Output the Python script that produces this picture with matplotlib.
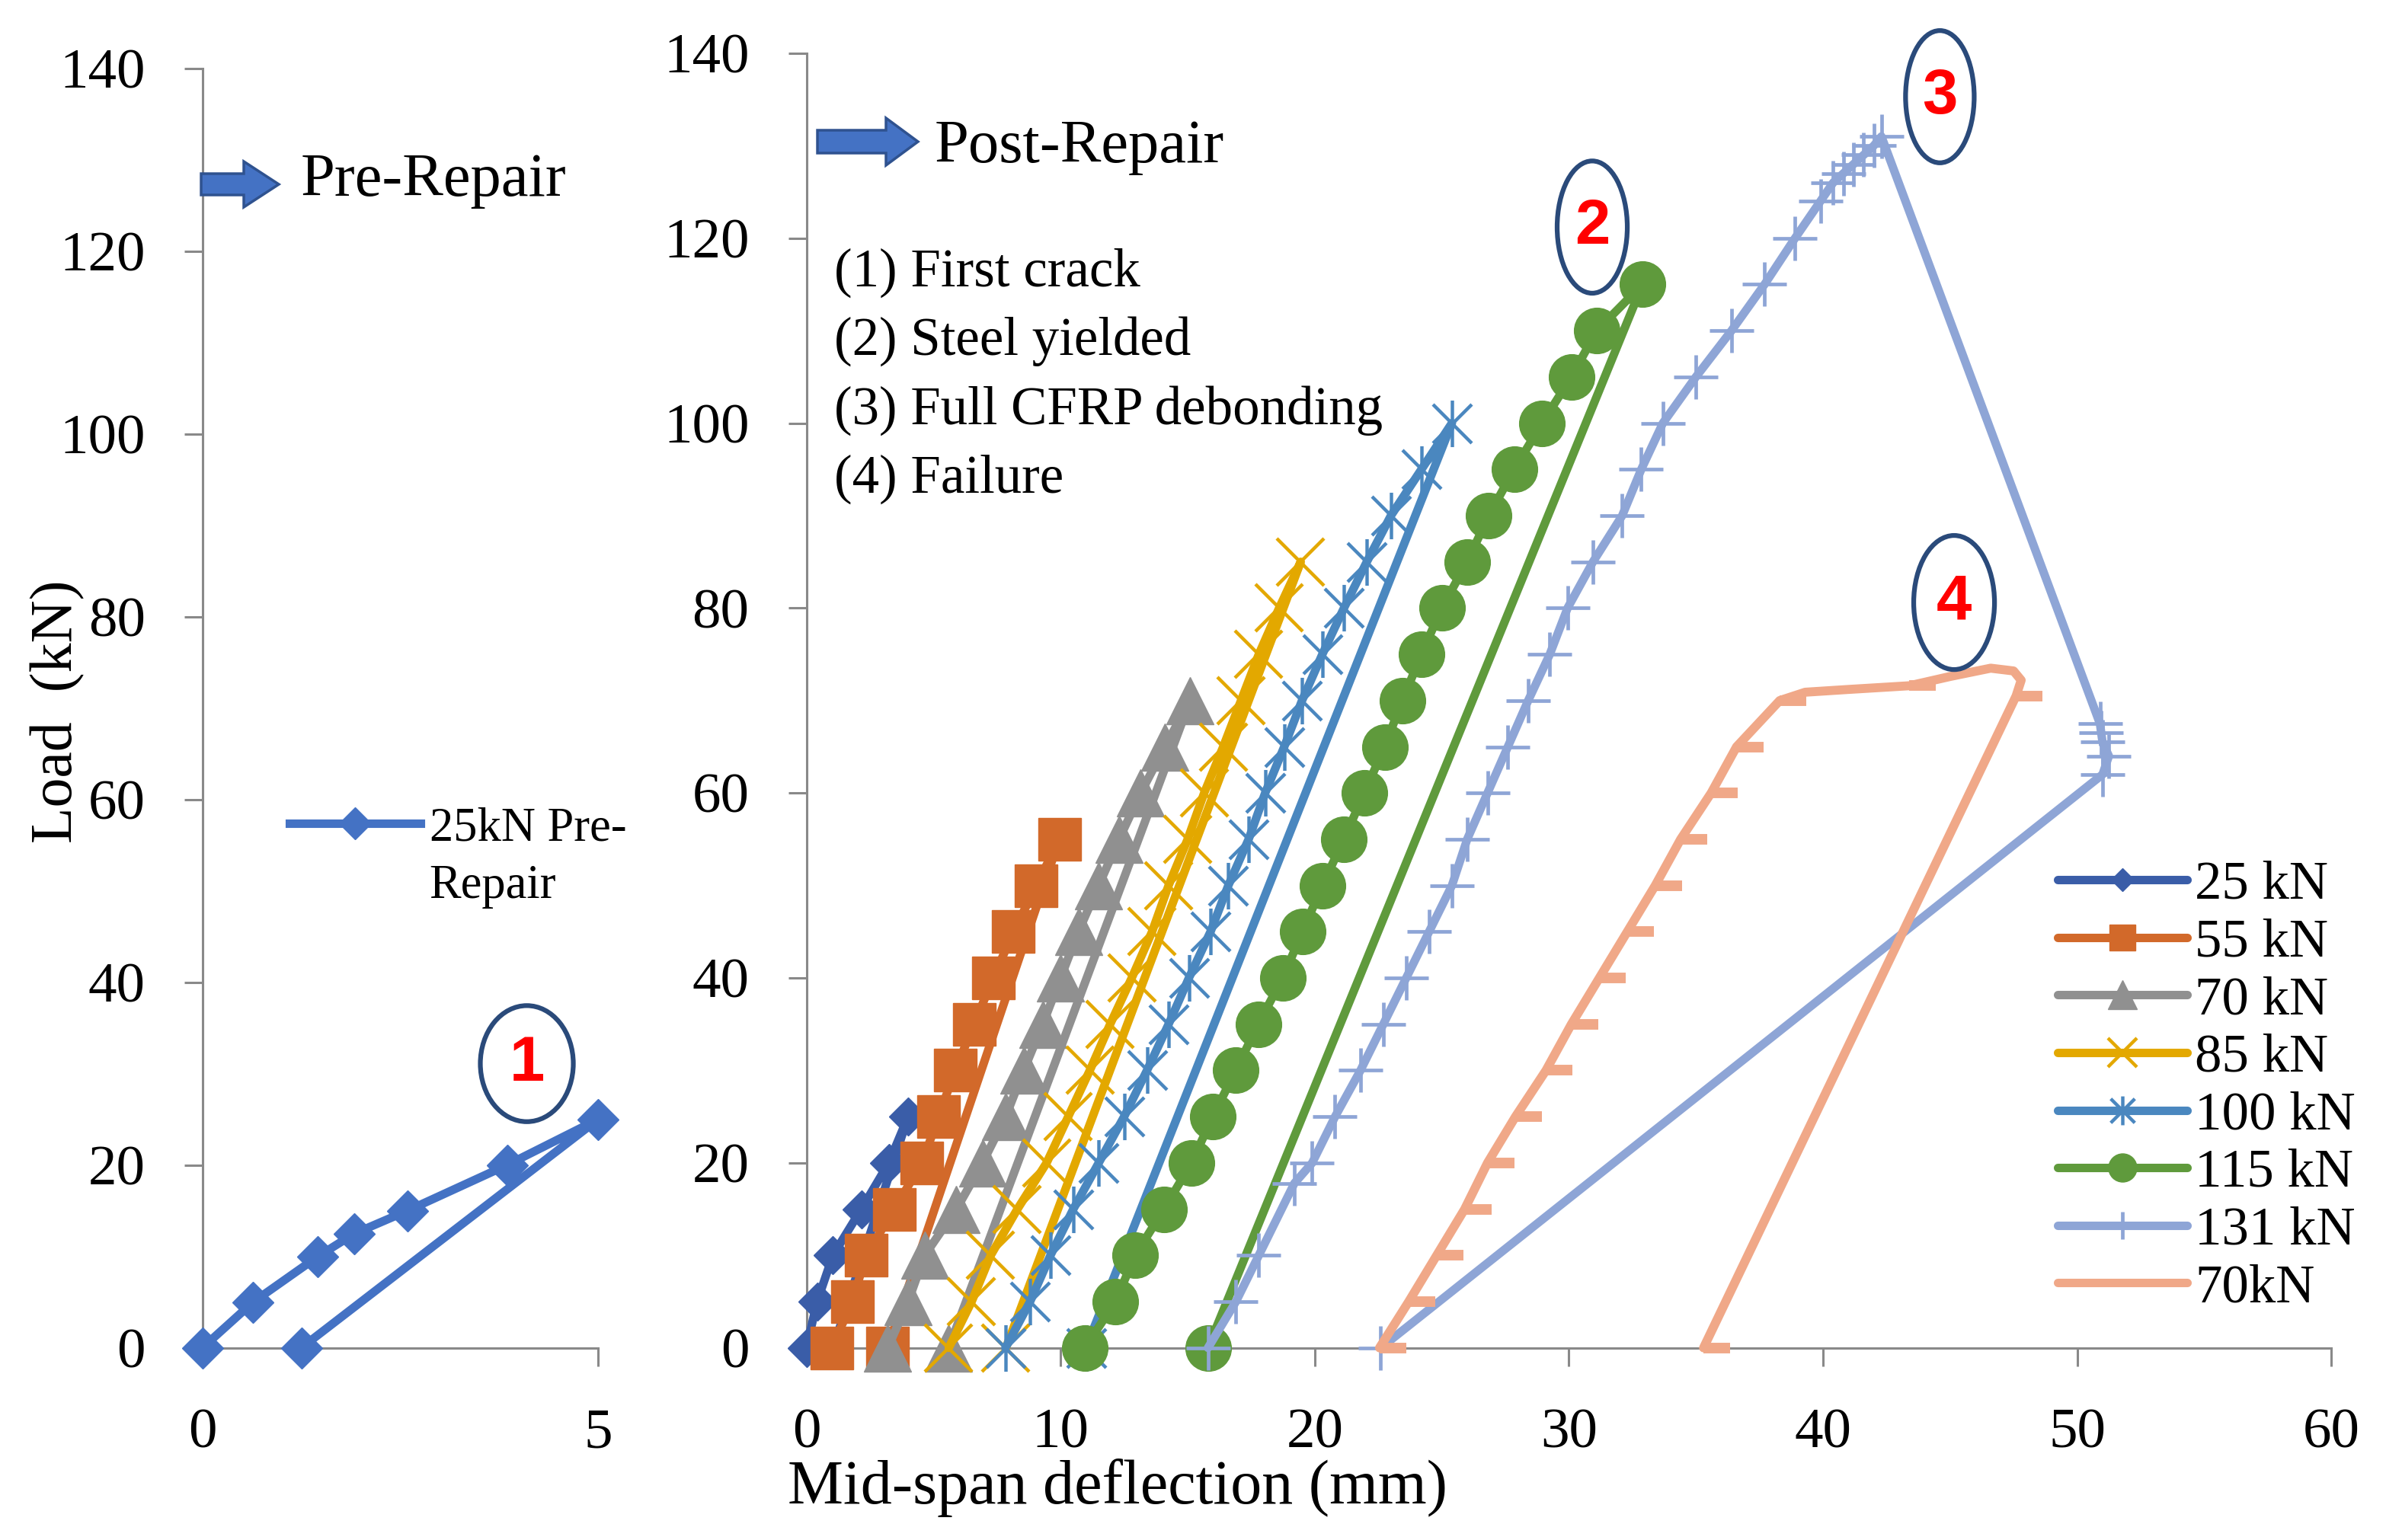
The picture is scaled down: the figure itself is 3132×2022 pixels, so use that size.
import numpy as np
import matplotlib
matplotlib.use("Agg")
import matplotlib.pyplot as plt
from matplotlib.path import Path
from matplotlib.patches import Ellipse, FancyArrow
from matplotlib.lines import Line2D

# ---------------- data ----------------
# Pre-repair cycle (left panel)
pre_x = [0, 0.64, 1.46, 1.92, 2.59, 3.85, 5.0, 1.25]
pre_y = [0, 5, 10, 12.5, 15, 20, 25, 0]

# Post-repair cycles (right panel): loading branch then unloading end point
c25_x = [0, 0.42, 1.04, 2.16, 3.24, 4.0, 1.05]
c25_y = [0, 5, 10, 15, 20, 25, 0]

c55_x = [1.0, 1.8, 2.35, 3.45, 4.55, 5.2, 5.85, 6.6, 7.35, 8.15, 9.05, 9.95, 3.2]
c55_y = [0, 5, 10, 15, 20, 25, 30, 35, 40, 45, 50, 55, 0]

c70_x = [3.2, 4.0, 4.65, 5.9, 6.93, 7.84, 8.55, 9.3, 10.0, 10.7, 11.5, 12.3, 13.15, 14.1, 15.1, 5.6]
c70_y = [0, 5, 10, 15, 20, 25, 30, 35, 40, 45, 50, 55, 60, 65, 70, 0]

c85_x = [5.6, 6.5, 7.25, 8.3, 9.45, 10.3, 11.15, 11.95, 12.8, 13.6, 14.25, 15.0, 15.65,
         16.4, 17.1, 17.8, 18.6, 19.45, 7.85]
c85_y = [0, 5, 10, 15, 20, 25, 30, 35, 40, 45, 50, 55, 60, 65, 70, 75, 80, 85, 0]

c100_x = [7.83, 8.8, 9.6, 10.5, 11.5, 12.5, 13.4, 14.25, 15.05, 15.9, 16.6, 17.4, 18.05,
          18.8, 19.5, 20.3, 21.15, 22.05, 23.0, 24.2, 25.4, 11.0]
c100_y = [0, 5, 10, 15, 20, 25, 30, 35, 40, 45, 50, 55, 60, 65, 70, 75, 80, 85, 90, 95, 100, 0]

c115_x = [10.96, 12.16, 12.93, 14.07, 15.15, 15.99, 16.89, 17.78, 18.74, 19.52, 20.3, 21.15,
          21.95, 22.75, 23.45, 24.2, 25.0, 26.0, 26.85, 27.85, 28.95, 30.1, 31.1, 32.9, 15.8]
c115_y = [0, 5, 10, 15, 20, 25, 30, 35, 40, 45, 50, 55, 60, 65, 70, 75, 80, 85, 90, 95, 100,
          105, 110, 115, 0]

c131_x = [15.8, 16.9, 17.8, 19.2, 19.9, 20.8, 21.8, 22.7, 23.6, 24.5, 25.4, 26.0, 26.8, 27.6,
          28.4, 29.25, 29.95, 30.95, 32.1, 32.85, 33.7, 35.0, 36.4, 37.7, 38.9, 39.9, 40.4,
          40.8, 41.2, 41.6, 42.0, 42.3, 50.9, 50.95, 51.0, 51.25, 51.0, 22.6]
c131_y = [0, 5, 10, 17.8, 20, 25, 30, 35, 40, 45, 50, 55, 60, 65, 70, 75, 80, 85, 90, 95, 100,
          105, 110, 115, 120, 124, 126, 127, 128, 129, 130, 131, 67.5, 66.5, 65.5, 64, 62, 0]

c70b_x = [22.55, 23.7, 24.8, 25.9, 26.8, 27.9, 29.1, 30.1, 31.2, 32.3, 33.4, 34.4, 35.6, 36.6,
          38.3, 39.3, 41.0, 43.4, 45.0, 46.6, 47.5, 47.8, 47.6, 35.3]
c70b_y = [0, 5, 10, 15, 20, 25, 30, 35, 40, 45, 50, 55, 60, 65, 70, 70.9, 71.2, 71.6, 72.6,
          73.5, 73.2, 72.2, 70.5, 0]
c70b_marked = list(range(15)) + [17, 22, 23]

labels = ["25 kN", "55 kN", "70 kN", "85 kN", "100 kN", "115 kN", "131 kN", "70kN"]
x_ticks_right = [0, 10, 20, 30, 40, 50, 60]
y_ticks = [0, 20, 40, 60, 80, 100, 120, 140]
x_ticks_left = [0, 5]
notes = ["(1) First crack", "(2) Steel yielded", "(3) Full CFRP debonding", "(4) Failure"]

# ---------------- style ----------------
plt.rcParams['font.family'] = ['Liberation Serif', 'DejaVu Serif']
W, H = 3132, 2022
fig = plt.figure(figsize=(W / 100, H / 100), dpi=100)
fig.patch.set_facecolor('white')

axL = fig.add_axes([265.7 / W, 1 - 1769.7 / H, (785.0 - 265.7) / W, (1769.7 - 89.9) / H])
axR = fig.add_axes([1058.6 / W, 1 - 1769.7 / H, (3060.1 - 1058.6) / W, (1769.7 - 69.9) / H])

SPINE = '#898989'
for ax in (axL, axR):
    for s in ('top', 'right'):
        ax.spines[s].set_visible(False)
    for s in ('left', 'bottom'):
        ax.spines[s].set_color(SPINE)
        ax.spines[s].set_linewidth(2.2)
        ax.spines[s].set_zorder(1)
    ax.tick_params(axis='both', direction='out', length=17, width=2.2, color=SPINE,
                   labelsize=54)
    ax.tick_params(axis='y', pad=37)
    ax.tick_params(axis='x', pad=40)
    ax.set_facecolor('none')
    ax.set_ylim(0, 140)
    ax.set_yticks(y_ticks)

axL.set_xlim(0, 5)
axL.set_xticks(x_ticks_left)
axR.set_xlim(0, 60)
axR.set_xticks(x_ticks_right)

star = Path([(-1, -1), (1, 1), (-1, 1), (1, -1), (0, -1.2), (0, 1.2)],
            [Path.MOVETO, Path.LINETO] * 3)
dash = Path([(0, 0), (1, 0)], [Path.MOVETO, Path.LINETO])

LW = 8.0
# Left panel
pre_line, = axL.plot(pre_x, pre_y, color='#4472C4', lw=LW, marker='D', ms=28, mew=1,
                     clip_on=False, zorder=3, solid_joinstyle='round')

# Right panel
series = [
    (c25_x, c25_y, '#3A5DA8', dict(marker='D', ms=25, mew=1)),
    (c55_x, c55_y, '#D2692A', dict(marker='s', ms=40, mew=1)),
    (c70_x, c70_y, '#909090', dict(marker='^', ms=44, mew=1)),
    (c85_x, c85_y, '#E3A800', dict(marker='x', ms=44, mew=3.2)),
    (c100_x, c100_y, '#4A87BF', dict(marker=star, ms=44, mew=3.2)),
    (c115_x, c115_y, '#5F9A3C', dict(marker='o', ms=43, mew=1)),
    (c131_x, c131_y, '#8EA5D6', dict(marker='+', ms=42, mew=3.4)),
]
handles = []
for i, (xs, ys, col, mk) in enumerate(series):
    ln, = axR.plot(xs, ys, color=col, lw=LW, clip_on=False, zorder=3 + i,
                   solid_joinstyle='round', solid_capstyle='round', **mk)
    handles.append(ln)

salmon = '#F0A888'
axR.plot(c70b_x, c70b_y, color=salmon, lw=8.5, marker=dash, ms=50, mew=10,
         markevery=c70b_marked, clip_on=False, zorder=11,
         solid_joinstyle='round', solid_capstyle='round')
handles.append(Line2D([], [], color=salmon, lw=LW, solid_capstyle='round'))

legR = axR.legend(handles, labels, loc='center left', bbox_to_anchor=(2701 / W, 1 - 1427 / H),
                  bbox_transform=fig.transFigure, frameon=False, fontsize=51,
                  handlelength=2.4, handletextpad=0.14, labelspacing=0.15, borderpad=0,
                  borderaxespad=0, markerscale=0.62)

legL = axL.legend([pre_line], ['25kN Pre-'], loc='center left',
                  bbox_to_anchor=(380 / W, 1 - 1088 / H), bbox_transform=fig.transFigure,
                  frameon=False, fontsize=45, handlelength=2.75, handletextpad=0.19,
                  borderpad=0, borderaxespad=0, markerscale=0.75)
fig.text(563 / W, 1 - 1164 / H, 'Repair', fontsize=45, ha='left', va='center')

# Axis titles
fig.text(76 / W, 1 - 934 / H, 'Load  (kN)', rotation=90, fontsize=56, ha='center', va='center')
fig.text(1467 / W, 1 - 1954 / H, 'Mid-span deflection (mm)', fontsize=59, ha='center',
         va='center')

# Arrows and headings
ARW_FC, ARW_EC = '#4472C4', '#2F528F'
fig.patches.append(FancyArrow(264 / W, 1 - 242 / H, (366 - 264) / W, 0, width=28 / H,
                              head_width=60 / H, head_length=46 / W,
                              length_includes_head=True, transform=fig.transFigure,
                              facecolor=ARW_FC, edgecolor=ARW_EC, lw=2.5, figure=fig))
fig.patches.append(FancyArrow(1073 / W, 1 - 186 / H, (1205 - 1073) / W, 0, width=30 / H,
                              head_width=62 / H, head_length=42 / W,
                              length_includes_head=True, transform=fig.transFigure,
                              facecolor=ARW_FC, edgecolor=ARW_EC, lw=2.5, figure=fig))
fig.text(395 / W, 1 - 238 / H, 'Pre-Repair', fontsize=58, ha='left', va='center')
fig.text(1227 / W, 1 - 194 / H, 'Post-Repair', fontsize=58, ha='left', va='center')

for k, t in enumerate(notes):
    fig.text(1095 / W, 1 - (358 + 90.5 * k) / H, t, fontsize=51, ha='left', va='center')

# Ellipse call-outs (centre / size in pixels converted to each axes' data units)
ELL = '#2A4A7A'
def callout(ax, cx, cy, w, h, num):
    e = Ellipse((cx, cy), w, h, facecolor='none', edgecolor=ELL, lw=4.5, clip_on=False,
                zorder=20)
    ax.add_patch(e)
    ax.text(cx, cy, num, color='#FF0000', fontsize=60, fontweight='bold',
            family=['Liberation Sans', 'DejaVu Sans'], ha='center', va='center',
            zorder=21, clip_on=False)

callout(axL, 4.1, 31.1, 1.175, 12.7, '1')
callout(axR, 30.92, 121.2, 2.76, 14.3, '2')
callout(axR, 44.6, 135.3, 2.7, 14.3, '3')
callout(axR, 45.16, 80.6, 3.18, 14.5, '4')

fig.savefig('out.png', dpi=100, facecolor='white')
